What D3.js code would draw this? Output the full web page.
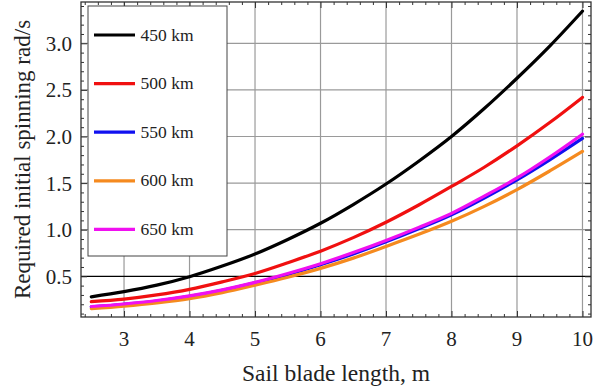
<!DOCTYPE html>
<html>
<head>
<meta charset="utf-8">
<script src="https://cdn.jsdelivr.net/npm/d3@7"></script>
<style>
  body { margin: 0; background: #fff; }
  svg { display: block; }
  text { font-family: "Liberation Serif", "DejaVu Serif", serif; fill: #222; }
</style>
</head>
<body>
<svg id="chart" width="593" height="392"></svg>
<script>
var width = 593, height = 392;

// sail blade length, m
var bladeLength = [2.5, 3, 3.5, 4, 4.5, 5, 5.5, 6, 6.5, 7, 7.5, 8, 8.5, 9, 9.5, 10];

// required initial spinning, rad/s
var spin450 = [0.28, 0.335, 0.405, 0.496, 0.61, 0.739, 0.895, 1.069, 1.27, 1.49, 1.735, 2.0, 2.30, 2.625, 2.97, 3.345];
var spin500 = [0.228, 0.255, 0.30, 0.36, 0.44, 0.53, 0.645, 0.77, 0.915, 1.08, 1.265, 1.464, 1.67, 1.9, 2.15, 2.42];
var spin550 = [0.172, 0.2, 0.235, 0.285, 0.35, 0.43, 0.52, 0.625, 0.74, 0.87, 1.01, 1.16, 1.34, 1.535, 1.75, 1.98];
var spin600 = [0.152, 0.18, 0.215, 0.26, 0.325, 0.405, 0.49, 0.585, 0.695, 0.82, 0.95, 1.09, 1.25, 1.43, 1.63, 1.84];
var spin650 = [0.176, 0.203, 0.24, 0.29, 0.355, 0.435, 0.53, 0.635, 0.755, 0.885, 1.025, 1.175, 1.36, 1.555, 1.78, 2.025];

var seriesNames = ["450 km", "500 km", "550 km", "600 km", "650 km"];
var seriesColors = ["#000000", "#f01010", "#1010f0", "#f58a1f", "#f010f0"];

var xTicks = [3, 4, 5, 6, 7, 8, 9, 10];
var yTicks = [0.5, 1.0, 1.5, 2.0, 2.5, 3.0];

var series = [spin450, spin500, spin550, spin600, spin650].map(function(vals, i) {
    return {
        name: seriesNames[i],
        color: seriesColors[i],
        points: vals.map(function(v, j) { return { x: bladeLength[j], y: v }; })
    };
});

var plotL = 81, plotR = 591, plotT = 2, plotB = 317;

var x = d3.scaleLinear().domain([2.343, 10.13]).range([plotL, plotR]);
var y = d3.scaleLinear().domain([0.0633, 3.443]).range([plotB, plotT]);

var svg = d3.select('#chart');

svg.append("defs").append("clipPath").attr("id", "plotClip")
    .append("rect")
    .attr("x", plotL).attr("y", plotT)
    .attr("width", plotR - plotL).attr("height", plotB - plotT);

// grid
svg.append("g").selectAll("line")
    .data(xTicks)
    .enter().append("line")
        .attr("x1", function(d) { return x(d); })
        .attr("x2", function(d) { return x(d); })
        .attr("y1", plotT)
        .attr("y2", plotB)
        .attr("stroke", "#9a9a9a")
        .attr("stroke-width", 1.2);

svg.append("g").selectAll("line")
    .data(yTicks)
    .enter().append("line")
        .attr("x1", plotL)
        .attr("x2", plotR)
        .attr("y1", function(d) { return y(d); })
        .attr("y2", function(d) { return y(d); })
        .attr("stroke", function(d) { return d === 0.5 ? "#000" : "#9a9a9a"; })
        .attr("stroke-width", 1.2);

// curves
var line = d3.line()
    .x(function(d) { return x(d.x); })
    .y(function(d) { return y(d.y); })
    .curve(d3.curveMonotoneX);

svg.append("g").attr("clip-path", "url(#plotClip)")
    .selectAll("path")
    .data(series)
    .enter().append("path")
        .attr("fill", "none")
        .attr("stroke", function(d) { return d.color; })
        .attr("stroke-width", 3.2)
        .attr("stroke-linecap", "round")
        .attr("d", function(d) { return line(d.points); });

// frame with inward ticks on all four sides
var xMinor = d3.range(2.4, 10.15, 0.2).map(function(v) { return +v.toFixed(1); })
    .filter(function(v) { return xTicks.indexOf(v) < 0; });
var yMinor = d3.range(0.1, 3.45, 0.1).map(function(v) { return +v.toFixed(1); })
    .filter(function(v) { return yTicks.indexOf(v) < 0; });

function frameAxis(axisFn, scale, ticks, size, pos) {
    var g = svg.append("g").attr("transform", pos)
        .call(axisFn(scale).tickValues(ticks).tickSize(size).tickFormat(""));
    g.select(".domain").remove();
    g.selectAll("line").attr("stroke", "#333").attr("stroke-width", 1);
}

frameAxis(d3.axisTop, x, xTicks, 6, "translate(0," + plotB + ")");
frameAxis(d3.axisTop, x, xMinor, 3, "translate(0," + plotB + ")");
frameAxis(d3.axisBottom, x, xTicks, 6, "translate(0," + plotT + ")");
frameAxis(d3.axisBottom, x, xMinor, 3, "translate(0," + plotT + ")");
frameAxis(d3.axisRight, y, yTicks, 6, "translate(" + plotL + ",0)");
frameAxis(d3.axisRight, y, yMinor, 3, "translate(" + plotL + ",0)");
frameAxis(d3.axisLeft, y, yTicks, 6, "translate(" + plotR + ",0)");
frameAxis(d3.axisLeft, y, yMinor, 3, "translate(" + plotR + ",0)");

svg.append("rect")
    .attr("x", plotL).attr("y", plotT)
    .attr("width", plotR - plotL).attr("height", plotB - plotT)
    .attr("fill", "none")
    .attr("stroke", "#333")
    .attr("stroke-width", 1.3);

// tick labels
svg.append("g").selectAll("text")
    .data(xTicks)
    .enter().append("text")
        .attr("x", function(d) { return x(d); })
        .attr("y", 346)
        .attr("text-anchor", "middle")
        .attr("font-size", 21)
        .text(function(d) { return d; });

svg.append("g").selectAll("text")
    .data(yTicks)
    .enter().append("text")
        .attr("x", 72)
        .attr("y", function(d) { return y(d) + 7.5; })
        .attr("text-anchor", "end")
        .attr("font-size", 21)
        .text(function(d) { return d.toFixed(1); });

// axis labels
svg.append("text")
    .attr("x", (plotL + plotR) / 2)
    .attr("y", 381)
    .attr("text-anchor", "middle")
    .attr("font-size", 23.5)
    .text("Sail blade length, m");

svg.append("text")
    .attr("transform", "translate(30," + ((plotT + plotB) / 2) + ") rotate(-90)")
    .attr("text-anchor", "middle")
    .attr("font-size", 23)
    .text("Required initial spinning rad/s");

// legend
var legend = svg.append("g");
legend.append("rect")
    .attr("x", 88).attr("y", 6)
    .attr("width", 139).attr("height", 250)
    .attr("fill", "#fff")
    .attr("stroke", "#444")
    .attr("stroke-width", 1);

var item = legend.selectAll("g.item")
    .data(series)
    .enter().append("g")
        .attr("class", "item")
        .attr("transform", function(d, i) { return "translate(0," + (35 + i * 48.6) + ")"; });

item.append("line")
    .attr("x1", 94).attr("x2", 135)
    .attr("y1", 0).attr("y2", 0)
    .attr("stroke", function(d) { return d.color; })
    .attr("stroke-width", 3.2);

item.append("text")
    .attr("x", 140.5)
    .attr("y", 5.5)
    .attr("font-size", 17.5)
    .text(function(d) { return d.name; });
</script>
</body>
</html>
